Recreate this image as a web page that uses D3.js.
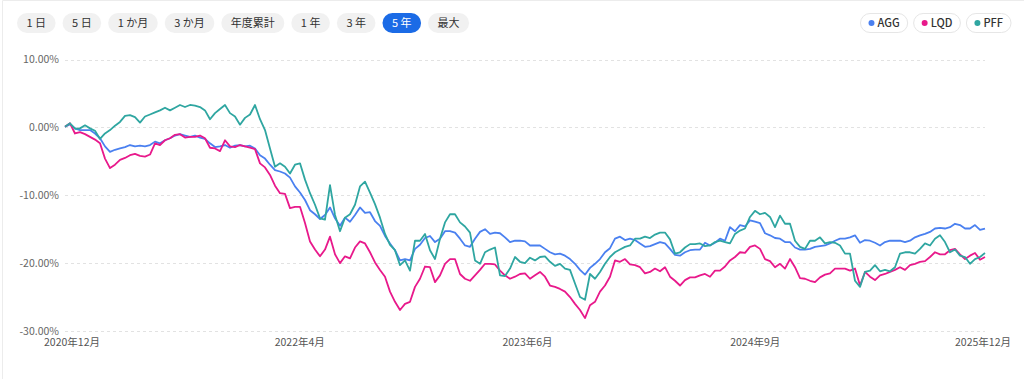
<!DOCTYPE html>
<html>
<head>
<meta charset="utf-8">
<script src="https://cdn.jsdelivr.net/npm/d3@7"></script>
<style>
    body { margin: 0; background: #fff; }
    svg { display: block; font-family: "Noto Sans CJK JP", "Noto Sans", sans-serif; }
</style>
</head>
<body>
<script>
(function(){
    // Pseudo-global variables
    var rangeLabels = ["1 日", "5 日", "1 か月", "3 か月", "年度累計", "1 年", "3 年", "5 年", "最大"];
    var activeRange = "5 年";

    var seriesNames = ["AGG", "LQD", "PFF"];
    var seriesColors = ["#4a80f0", "#e8198b", "#2fa6a1"];

    // cumulative return (%), weekly-ish samples, Dec 2020 -> Dec 2025
    var aggValues = [
        0.1, 0.45, -0.15, -0.4, -0.4, -0.4, -0.9, -1.6, -2.8, -3.6, -3.3, -3.1, -2.9, -2.6, -2.8, -2.7,
        -2.8, -2.6, -2.1, -2.35, -1.9, -1.6, -1.2, -1.0, -1.2, -1.4, -1.2, -1.5, -1.7, -2.35, -2.9, -2.8,
        -2.6, -3.0, -2.7, -2.6, -2.8, -2.7, -3.1, -4.1, -4.6, -5.5, -6.3, -6.5, -6.8, -7.4, -8.7, -9.6,
        -10.7, -12.2, -12.8, -13.5, -12.9, -11.8, -13.4, -14.5, -13.3, -13.9, -12.9, -11.8, -12.6,
        -12.5, -13.8, -14.5, -16.0, -17.1, -18.1, -19.6, -19.4, -19.6, -17.9, -17.3, -16.3, -16.0, -16.9,
        -16.4, -15.3, -15.3, -15.5, -16.4, -17.4, -17.6, -16.4, -15.4, -15.0, -15.7, -15.5, -15.6, -16.2,
        -16.9, -16.7, -16.7, -16.8, -17.4, -17.4, -17.4, -17.9, -18.4, -18.7, -18.6, -18.9, -19.4, -20.1,
        -21.0, -21.7, -20.7, -20.1, -19.4, -18.4, -17.8, -16.4, -16.1, -16.6, -16.4, -16.6, -17.1, -17.6,
        -17.5, -17.2, -16.9, -17.1, -17.9,
        -18.8, -18.9, -18.4, -18.1, -18.0, -18.0, -17.0, -17.4, -17.0, -16.4, -16.7, -14.7, -15.3, -14.4,
        -14.6, -13.7, -13.9, -14.1, -15.6, -15.9, -16.3, -16.4, -16.9, -16.9, -17.7, -18.0, -18.0, -17.9,
        -17.6, -17.5, -17.4, -17.1, -16.7, -16.4, -16.4, -16.2, -15.9, -17.0, -16.6, -16.7, -17.0, -17.4,
        -16.9, -16.7, -16.7, -16.7, -16.9, -16.7, -16.2, -15.9, -15.7, -15.4, -14.9, -14.8, -14.9, -14.7,
        -14.2, -14.4, -14.9, -14.9, -14.4, -15.1, -14.9
    ];
    var lqdValues = [
        0.1, 0.6, -0.9, -0.7, -1.0, -1.4, -1.8, -2.35, -4.6, -6.0, -5.5, -4.8, -4.5, -4.1, -3.9, -4.2,
        -4.3, -4.0, -2.35, -2.6, -1.9, -1.6, -1.1, -1.0, -1.5, -1.4, -1.4, -1.2, -1.6, -3.0, -3.1, -3.5,
        -1.9, -2.8, -2.9, -2.6, -2.8, -3.0, -3.2, -5.3, -5.9, -7.0, -8.6, -9.7, -9.8, -11.9, -11.7, -11.7,
        -14.1, -16.8, -18.0, -19.0, -18.0, -16.1, -18.7, -20.0, -19.0, -19.3, -17.7, -16.8, -17.1,
        -18.4, -19.9, -21.0, -22.0, -24.2, -25.7, -26.9, -26.0, -25.7, -23.5, -22.3, -20.5, -20.6, -22.8,
        -21.8, -20.1, -19.4, -19.4, -21.6, -22.3, -22.6, -21.8, -21.0, -20.1, -20.1, -20.2, -21.1, -21.8,
        -22.3, -22.0, -21.6, -21.5, -22.3, -21.8, -21.3, -22.0, -23.3, -23.5, -23.8, -24.2, -25.0, -26.0,
        -26.9, -28.1, -26.2, -25.7, -24.2, -23.3, -22.0, -19.6, -19.8, -19.4, -20.2, -20.3, -20.6, -21.5,
        -21.3, -20.8, -21.2, -20.6, -22.0,
        -22.6, -23.3, -22.5, -22.1, -22.1, -21.8, -21.6, -22.0, -21.1, -21.1, -20.5, -19.6, -19.1, -18.4,
        -18.5, -17.6, -17.4, -17.9, -19.4, -19.7, -20.6, -20.1, -20.8, -19.4, -20.6, -22.2, -22.3, -22.6,
        -22.8, -22.1, -21.7, -21.5, -20.8, -20.8, -20.8, -21.1, -20.8, -23.3, -21.3, -22.0, -22.5, -21.8,
        -21.6, -21.3, -21.0, -20.6, -21.0, -20.3, -20.1, -19.8, -19.7, -19.1, -18.4, -18.7, -18.7, -18.1,
        -17.9, -18.7, -19.4, -18.9, -18.5, -19.5, -19.1
    ];
    var pffValues = [
        0.1, 0.6, -0.2, -0.15, 0.3, -0.15, -0.5, -1.7, -0.9, -0.4, 0.25, 0.8, 1.7, 1.8, 1.5, 0.7,
        1.6, 1.9, 2.2, 2.5, 2.9, 2.5, 2.9, 3.3, 3.0, 3.3, 3.2, 3.0, 2.5, 1.2, 2.1, 2.7,
        3.3, 2.1, 1.6, 0.4, 1.4, 1.9, 3.3, 1.2, -0.4, -3.1, -5.8, -5.3, -5.8, -6.8, -5.5, -5.3,
        -7.7, -9.7, -11.4, -13.4, -13.6, -8.5, -12.9, -15.3, -13.3, -12.8, -11.4, -8.7, -8.0,
        -9.6, -11.3, -13.3, -15.7, -17.3, -18.1, -20.3, -19.6, -21.1, -16.7, -16.7, -15.7, -18.1, -19.4,
        -16.4, -14.0, -12.8, -12.8, -14.0, -14.6, -15.5, -19.6, -20.1, -18.4, -18.0, -17.7, -21.8, -21.9,
        -20.8, -19.1, -19.8, -20.0, -19.2, -19.6, -19.1, -19.0, -19.8, -20.4, -20.1, -20.8, -21.0, -23.0,
        -25.0, -25.4, -21.6, -22.3, -21.3, -20.1, -19.1, -18.4, -18.0, -17.6, -17.4, -16.4, -16.4, -16.1,
        -16.3, -15.8, -15.5, -15.5, -16.5,
        -18.6, -18.4, -17.7, -17.2, -17.2, -17.1, -17.5, -17.4, -16.9, -16.7, -16.9, -17.1, -15.7, -15.2,
        -14.9, -13.2, -12.3, -12.8, -12.6, -13.2, -14.7, -13.0, -14.2, -14.2, -16.7, -17.6, -17.9, -16.7,
        -16.7, -16.2, -17.1, -16.9, -17.0, -17.4, -18.6, -18.6, -22.6, -23.5, -21.3, -21.1, -20.3, -21.2,
        -21.0, -21.2, -20.6, -18.6, -18.4, -18.4, -18.6, -17.9, -17.1, -17.4, -16.4, -15.9, -16.9, -18.4,
        -18.0, -18.9, -19.1, -20.1, -19.4, -19.1, -18.5
    ];

    var yTicks = [10, 0, -10, -20, -30];
    var xTickLabels = ["2020年12月", "2022年4月", "2023年6月", "2024年9月", "2025年12月"];

    var width = 1024,
        height = 379,
        plotLeft = 65,
        plotRight = 985,
        plotTop = 59.5,
        plotBottom = 331;

    var xScale = d3.scaleLinear()
        .domain([0, aggValues.length - 1])
        .range([plotLeft, plotRight]);

    var yScale = d3.scaleLinear()
        .domain([-30, 10])
        .range([plotBottom, plotTop]);

    // tick labels sit slightly inside the plot ends
    var labelScale = d3.scalePoint()
        .domain(xTickLabels)
        .range([72, 983]);

    window.onload = setChart;

    function setChart(){
        var svg = d3.select("body")
            .append("svg")
            .attr("width", width)
            .attr("height", height);

        // card border (top + left)
        svg.append("path")
            .attr("d", "M2.5," + height + "V0.5H" + width)
            .attr("fill", "none")
            .attr("stroke", "#ececec");

        setRangeButtons(svg);
        setLegend(svg);
        setAxes(svg);
        setLines(svg);
    }

    function setRangeButtons(svg){
        var x = 17;
        rangeLabels.forEach(function(label){
            var active = label === activeRange;
            var g = svg.append("g").attr("transform", "translate(" + x + ",13)");
            var rect = g.append("rect")
                .attr("height", 20)
                .attr("rx", 10)
                .attr("fill", active ? "#1b6be6" : "#f1f1f1");
            var text = g.append("text")
                .attr("y", 14)
                .attr("font-size", 11)
                .attr("fill", active ? "#fff" : "#333")
                .text(label);
            var w = text.node().getComputedTextLength() + 19;
            rect.attr("width", w);
            text.attr("x", w / 2).attr("text-anchor", "middle");
            x += w + 7;
        });
    }

    function setLegend(svg){
        var right = 1011;
        for (var i = seriesNames.length - 1; i >= 0; i--){
            var g = svg.append("g");
            var rect = g.append("rect")
                .attr("y", 13.5)
                .attr("height", 19)
                .attr("rx", 9.5)
                .attr("fill", "#fff")
                .attr("stroke", "#e6e6e6");
            var text = g.append("text")
                .attr("y", 27)
                .attr("font-size", 11)
                .attr("font-weight", 500)
                .attr("fill", "#333")
                .text(seriesNames[i]);
            var w = text.node().getComputedTextLength() + 25;
            var left = right - w;
            rect.attr("x", left).attr("width", w);
            g.append("circle")
                .attr("cx", left + 11)
                .attr("cy", 23)
                .attr("r", 3)
                .attr("fill", seriesColors[i]);
            text.attr("x", left + 17);
            right = left - 6;
        }
    }

    function setAxes(svg){
        svg.selectAll(".grid")
            .data(yTicks)
            .enter()
            .append("line")
            .attr("class", "grid")
            .attr("x1", plotLeft)
            .attr("x2", plotRight)
            .attr("y1", d => Math.round(yScale(d)) + 0.5)
            .attr("y2", d => Math.round(yScale(d)) + 0.5)
            .attr("stroke", "#e2e2e2")
            .attr("stroke-dasharray", "3,3");

        svg.selectAll(".yLabel")
            .data(yTicks)
            .enter()
            .append("text")
            .attr("class", "yLabel")
            .attr("x", 59)
            .attr("y", d => yScale(d) + 3.5)
            .attr("text-anchor", "end")
            .attr("font-size", 10.5)
            .attr("fill", "#666")
            .text(d => d.toFixed(2) + "%");

        svg.selectAll(".xLabel")
            .data(xTickLabels)
            .enter()
            .append("text")
            .attr("class", "xLabel")
            .attr("x", d => labelScale(d))
            .attr("y", 346)
            .attr("text-anchor", "middle")
            .attr("font-size", 10.5)
            .attr("fill", "#555")
            .text(d => d);
    }

    function setLines(svg){
        var allSeries = [aggValues, lqdValues, pffValues];

        var line = d3.line()
            .x((d, i) => xScale(i))
            .y(d => yScale(d));

        svg.selectAll(".series")
            .data(allSeries)
            .enter()
            .append("path")
            .attr("class", "series")
            .attr("d", line)
            .attr("fill", "none")
            .attr("stroke", (d, i) => seriesColors[i])
            .attr("stroke-width", 1.8)
            .attr("stroke-linejoin", "round");
    }

})();
</script>
</body>
</html>
